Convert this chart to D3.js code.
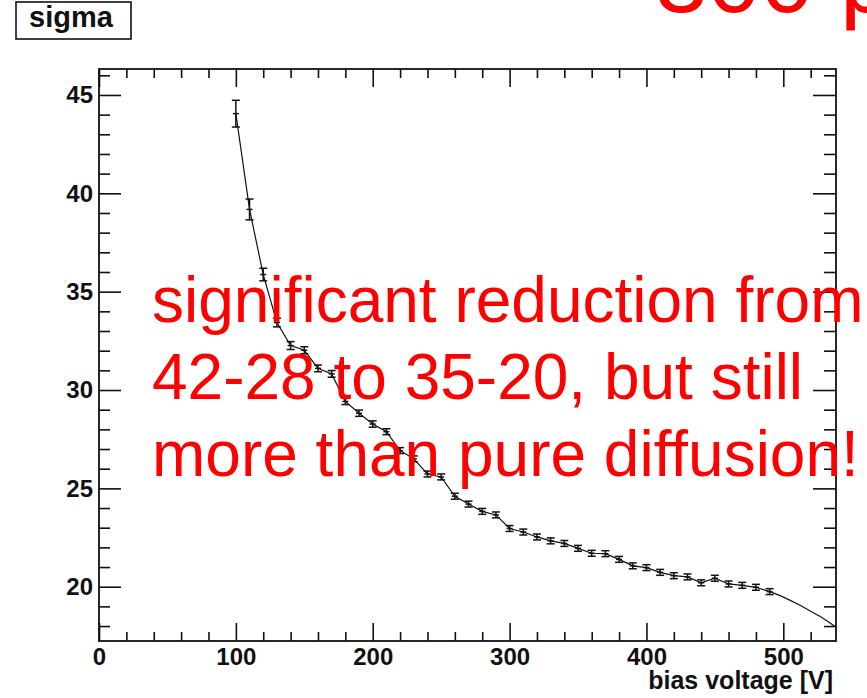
<!DOCTYPE html>
<html>
<head>
<meta charset="utf-8">
<script src="https://cdn.jsdelivr.net/npm/d3@7"></script>
<style>
  body { margin: 0; background: #fff; }
  svg { display: block; font-family: "Liberation Sans", Arial, sans-serif; }
</style>
</head>
<body>
<div id="chart"></div>
<script>
// measured points (bias voltage in V, sigma and its error)
var voltage = [100, 110, 120, 130, 140, 150, 160, 170, 180, 190,
               200, 210, 220, 230, 240, 250, 260, 270, 280, 290,
               300, 310, 320, 330, 340, 350, 360, 370, 380, 390,
               400, 410, 420, 430, 440, 450, 460, 470, 480, 490];
var sigma = [44.05, 39.18, 35.87, 33.43, 32.26, 32.02, 31.10, 30.82, 29.42, 28.82,
             28.27, 27.88, 26.92, 26.50, 25.73, 25.58, 24.60, 24.20, 23.83, 23.65,
             22.96, 22.78, 22.53, 22.33, 22.20, 21.95, 21.70, 21.68, 21.39, 21.06,
             20.97, 20.73, 20.56, 20.50, 20.20, 20.43, 20.14, 20.07, 19.97, 19.75];
var sigmaErr = [0.68, 0.53, 0.32, 0.22, 0.20, 0.18, 0.17, 0.17, 0.16, 0.16,
                0.16, 0.15, 0.15, 0.15, 0.15, 0.15, 0.15, 0.15, 0.15, 0.15,
                0.15, 0.15, 0.15, 0.15, 0.15, 0.15, 0.15, 0.15, 0.15, 0.15,
                0.15, 0.15, 0.15, 0.15, 0.15, 0.15, 0.15, 0.15, 0.15, 0.15];

// fit curve continuing past the last point
var fitVoltage = [490, 500, 510, 520, 530, 538];
var fitSigma = [19.76, 19.47, 19.13, 18.75, 18.35, 17.98];

var xMajor = [0, 100, 200, 300, 400, 500];
var yMajor = [20, 25, 30, 35, 40, 45];

var noteLines = ["significant reduction from",
                 "42-28 to 35-20, but still",
                 "more than pure diffusion!"];

var W = 867, H = 698;
var frame = { left: 99, top: 69, right: 836, bottom: 641 };

var svg = d3.select("#chart").append("svg")
    .attr("width", W)
    .attr("height", H);

var x = d3.scaleLinear()
    .domain([0, 538.5])
    .range([frame.left, frame.right]);

var y = d3.scaleLinear()
    .domain([17.24, 46.32])
    .range([frame.bottom, frame.top]);

var xMinor = d3.range(20, 539, 20).filter(function(v) { return v % 100 !== 0; });
var yMinor = d3.range(18, 47, 1).filter(function(v) { return v % 5 !== 0; });

function styleAxis(g) {
  g.select(".domain").remove();
  g.selectAll(".tick line").attr("stroke", "#111").attr("stroke-width", 1.6);
  g.selectAll(".tick text")
    .attr("fill", "#111")
    .style("font-size", "24px")
    .style("font-weight", "bold");
}

// bottom axis
svg.append("g")
    .attr("transform", "translate(0," + frame.bottom + ")")
    .call(d3.axisBottom(x).tickValues(xMajor).tickSize(-18).tickPadding(7))
    .call(styleAxis);
svg.append("g")
    .attr("transform", "translate(0," + frame.bottom + ")")
    .call(d3.axisBottom(x).tickValues(xMinor).tickSize(-9).tickFormat(""))
    .call(styleAxis);

// top axis (ticks only)
svg.append("g")
    .attr("transform", "translate(0," + frame.top + ")")
    .call(d3.axisTop(x).tickValues(xMajor).tickSize(-18).tickFormat(""))
    .call(styleAxis);
svg.append("g")
    .attr("transform", "translate(0," + frame.top + ")")
    .call(d3.axisTop(x).tickValues(xMinor).tickSize(-9).tickFormat(""))
    .call(styleAxis);

// left axis
svg.append("g")
    .attr("transform", "translate(" + frame.left + ",0)")
    .call(d3.axisLeft(y).tickValues(yMajor).tickSize(-22).tickPadding(6))
    .call(styleAxis);
svg.append("g")
    .attr("transform", "translate(" + frame.left + ",0)")
    .call(d3.axisLeft(y).tickValues(yMinor).tickSize(-11).tickFormat(""))
    .call(styleAxis);

// right axis (ticks only)
svg.append("g")
    .attr("transform", "translate(" + frame.right + ",0)")
    .call(d3.axisRight(y).tickValues(yMajor).tickSize(-23).tickFormat(""))
    .call(styleAxis);
svg.append("g")
    .attr("transform", "translate(" + frame.right + ",0)")
    .call(d3.axisRight(y).tickValues(yMinor).tickSize(-12).tickFormat(""))
    .call(styleAxis);

// frame
svg.append("rect")
    .attr("x", frame.left)
    .attr("y", frame.top)
    .attr("width", frame.right - frame.left)
    .attr("height", frame.bottom - frame.top)
    .attr("fill", "none")
    .attr("stroke", "#111")
    .attr("stroke-width", 1.8);

// x axis title
svg.append("text")
    .attr("x", 833)
    .attr("y", 689)
    .attr("text-anchor", "end")
    .attr("fill", "#111")
    .style("font-size", "25px")
    .style("font-weight", "bold")
    .text("bias voltage [V]");

// title box
svg.append("rect")
    .attr("x", 16)
    .attr("y", 2)
    .attr("width", 115)
    .attr("height", 37)
    .attr("fill", "#fff")
    .attr("stroke", "#111")
    .attr("stroke-width", 1.6);
svg.append("text")
    .attr("x", 71)
    .attr("y", 27)
    .attr("text-anchor", "middle")
    .attr("fill", "#111")
    .style("font-size", "29px")
    .style("font-weight", "bold")
    .text("sigma");

// data
var data = voltage.map(function(v, i) {
  return { v: v, s: sigma[i], e: sigmaErr[i] };
});
var fit = fitVoltage.map(function(v, i) { return { v: v, s: fitSigma[i] }; });

var line = d3.line()
    .x(function(d) { return x(d.v); })
    .y(function(d) { return y(d.s); });

svg.append("path")
    .datum(data)
    .attr("fill", "none")
    .attr("stroke", "#111")
    .attr("stroke-width", 1.2)
    .attr("d", line);

svg.append("path")
    .datum(fit)
    .attr("fill", "none")
    .attr("stroke", "#111")
    .attr("stroke-width", 1.2)
    .attr("d", line.curve(d3.curveMonotoneX));

var bars = svg.append("g")
    .attr("stroke", "#111")
    .attr("stroke-width", 1.5);

bars.selectAll(".bar")
    .data(data)
  .enter().append("line")
    .attr("x1", function(d) { return x(d.v); })
    .attr("x2", function(d) { return x(d.v); })
    .attr("y1", function(d) { return y(d.s + d.e); })
    .attr("y2", function(d) { return y(d.s - d.e); });

bars.selectAll(".capTop")
    .data(data)
  .enter().append("line")
    .attr("x1", function(d) { return x(d.v) - 4; })
    .attr("x2", function(d) { return x(d.v) + 4; })
    .attr("y1", function(d) { return y(d.s + d.e); })
    .attr("y2", function(d) { return y(d.s + d.e); });

bars.selectAll(".capBottom")
    .data(data)
  .enter().append("line")
    .attr("x1", function(d) { return x(d.v) - 4; })
    .attr("x2", function(d) { return x(d.v) + 4; })
    .attr("y1", function(d) { return y(d.s - d.e); })
    .attr("y2", function(d) { return y(d.s - d.e); });

bars.selectAll(".mark")
    .data(data)
  .enter().append("line")
    .attr("x1", function(d) { return x(d.v) - 3; })
    .attr("x2", function(d) { return x(d.v) + 3; })
    .attr("y1", function(d) { return y(d.s); })
    .attr("y2", function(d) { return y(d.s); });

// red annotations
svg.append("text")
    .attr("x", 655)
    .attr("y", 12)
    .attr("fill", "#ff0000")
    .style("font-size", "95px")
    .text("300 μm");

svg.selectAll(".note")
    .data(noteLines)
  .enter().append("text")
    .attr("x", 152)
    .attr("y", function(d, i) { return 322 + i * 77; })
    .attr("fill", "#ff0000")
    .style("font-size", "64px")
    .text(function(d) { return d; });
</script>
</body>
</html>
